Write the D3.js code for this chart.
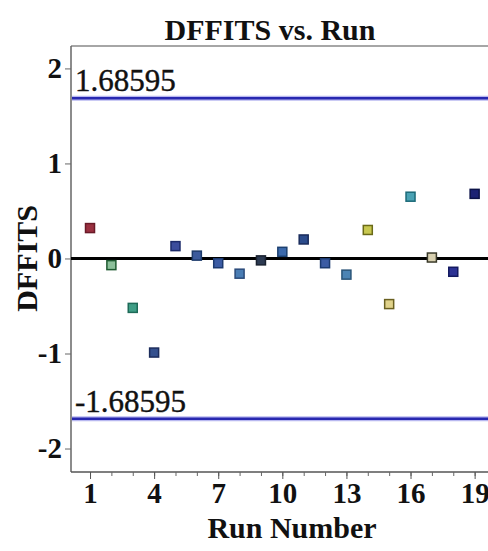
<!DOCTYPE html>
<html>
<head>
<meta charset="utf-8">
<script src="https://cdn.jsdelivr.net/npm/d3@7.9.0/dist/d3.min.js"></script>
<style>
  html, body { margin: 0; padding: 0; background: #fff; }
  svg { display: block; font-family: "Liberation Serif", "Times New Roman", serif; }
</style>
</head>
<body>
<svg id="chart" width="488" height="551"></svg>
<script>
const runs = d3.range(1, 20);
const dffits = [0.32, -0.07, -0.52, -0.99, 0.13, 0.03, -0.05, -0.16, -0.02, 0.07,
                0.20, -0.05, -0.17, 0.30, -0.48, 0.65, 0.01, -0.14, 0.68];
const cutoff = 1.68595;
const yTicks = [-2, -1, 0, 1, 2];
const xTicks = [1, 4, 7, 10, 13, 16, 19];

// marker colours, one per run (fill / outline)
const fills = ["#9a3040", "#8cc09a", "#3f9e86", "#34508e", "#3b4c9c", "#3b5a9c", "#3c5ca4",
               "#4a7db4", "#2c3a52", "#3c6aac", "#2c4c8c", "#3c5ca4", "#4c84b4", "#c8c850",
               "#e0d28a", "#4aa2b4", "#d8d0b0", "#2c3294", "#1c2274"];
const strokes = ["#6a1a28", "#1e5a30", "#1e6a58", "#1c2c5c", "#1c2a6a", "#1c3a6a", "#1c3a70",
                 "#2a4a7a", "#1a2230", "#1c4070", "#1a2c5c", "#1c3a70", "#2a5478", "#6a6a18",
                 "#6a6020", "#1c6a78", "#3a3a2a", "#141a60", "#0c1248"];

const svg = d3.select("#chart");
const margin = { left: 71, top: 46, bottom: 472 };

const x = d3.scaleLinear().domain([0.11, 20]).range([margin.left, 496]);
const y = d3.scaleLinear().domain([-2.247, 2.236]).range([margin.bottom, margin.top]);

// plain hyphen for negatives, like the original
const fmt = d => String(d);

// frame
svg.append("line")
  .attr("x1", margin.left).attr("x2", 488)
  .attr("y1", margin.top).attr("y2", margin.top)
  .attr("stroke", "#888").attr("stroke-width", 1.5);
svg.append("line")
  .attr("x1", margin.left).attr("x2", margin.left)
  .attr("y1", margin.top).attr("y2", margin.bottom)
  .attr("stroke", "#666").attr("stroke-width", 1.5);
svg.append("line")
  .attr("x1", margin.left).attr("x2", 488)
  .attr("y1", margin.bottom).attr("y2", margin.bottom)
  .attr("stroke", "#555").attr("stroke-width", 1.5);

// y axis
const yAxis = svg.append("g")
  .attr("transform", `translate(${margin.left},0)`)
  .call(d3.axisLeft(y).tickValues(yTicks).tickSize(6).tickPadding(3).tickFormat(fmt));
yAxis.select(".domain").remove();
yAxis.selectAll("line").attr("stroke", "#666");
yAxis.selectAll("text")
  .attr("font-size", 29).attr("font-weight", "bold").attr("fill", "#111")
  .attr("font-family", "Liberation Serif");

// x axis: minor ticks every run, major every three
const xMinor = svg.append("g")
  .attr("transform", `translate(0,${margin.bottom})`)
  .call(d3.axisBottom(x).tickValues(d3.range(1, 21)).tickSize(4).tickFormat(""));
xMinor.select(".domain").remove();
xMinor.selectAll("line").attr("stroke", "#666");

const xAxis = svg.append("g")
  .attr("transform", `translate(0,${margin.bottom})`)
  .call(d3.axisBottom(x).tickValues(xTicks).tickSize(7).tickPadding(3).tickFormat(fmt));
xAxis.select(".domain").remove();
xAxis.selectAll("line").attr("stroke", "#555");
xAxis.selectAll("text")
  .attr("font-size", 29).attr("font-weight", "bold").attr("fill", "#111")
  .attr("font-family", "Liberation Serif");

// reference lines
[cutoff, -cutoff].forEach(v => {
  svg.append("line")
    .attr("x1", margin.left + 1).attr("x2", 488)
    .attr("y1", y(v)).attr("y2", y(v))
    .attr("stroke", "#b8b8f0").attr("stroke-width", 5);
  svg.append("line")
    .attr("x1", margin.left + 1).attr("x2", 488)
    .attr("y1", y(v)).attr("y2", y(v))
    .attr("stroke", "#2828b0").attr("stroke-width", 2.5);
  svg.append("text")
    .attr("x", margin.left + 4).attr("y", y(v) - 7)
    .attr("font-size", 31).attr("fill", "#111")
    .attr("stroke", "#111").attr("stroke-width", 0.4)
    .text(fmt(v));
});

// zero line
svg.append("line")
  .attr("x1", margin.left).attr("x2", 488)
  .attr("y1", y(0)).attr("y2", y(0))
  .attr("stroke", "#000").attr("stroke-width", 3);

// points
const s = 9;
svg.append("g").selectAll("rect")
  .data(runs)
  .join("rect")
  .attr("x", (d, i) => x(d) - s / 2)
  .attr("y", (d, i) => y(dffits[i]) - s / 2)
  .attr("width", s).attr("height", s)
  .attr("fill", (d, i) => fills[i])
  .attr("stroke", (d, i) => strokes[i])
  .attr("stroke-width", 1.5);

// titles
svg.append("text")
  .attr("x", 270).attr("y", 40)
  .attr("text-anchor", "middle")
  .attr("font-size", 30).attr("font-weight", "bold").attr("fill", "#111")
  .text("DFFITS vs. Run");

svg.append("text")
  .attr("x", 292).attr("y", 538)
  .attr("text-anchor", "middle")
  .attr("font-size", 30).attr("font-weight", "bold").attr("fill", "#111")
  .text("Run Number");

svg.append("text")
  .attr("transform", `translate(37,${y(0)}) rotate(-90)`)
  .attr("text-anchor", "middle")
  .attr("font-size", 30).attr("font-weight", "bold").attr("fill", "#111")
  .text("DFFITS");
</script>
</body>
</html>
